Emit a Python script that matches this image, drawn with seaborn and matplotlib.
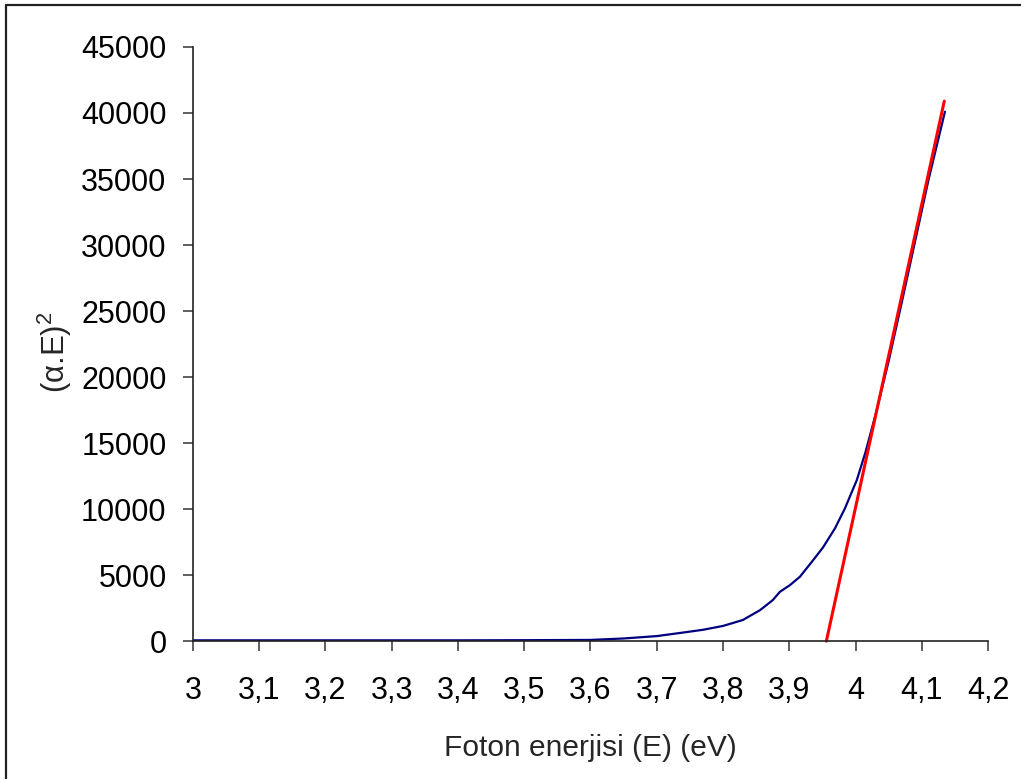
import matplotlib
matplotlib.use("Agg")
import matplotlib.pyplot as plt
from matplotlib.lines import Line2D
import seaborn as sns
import pandas as pd

# Measured absorption: photon energy (eV) vs (alpha*E)^2
energy = [3.0, 3.1, 3.2, 3.3, 3.4, 3.5, 3.6, 3.65, 3.7, 3.74, 3.77, 3.80, 3.83,
          3.856, 3.875, 3.886, 3.901, 3.916, 3.934, 3.951, 3.969, 3.984, 4.002,
          4.015, 4.03, 4.05, 4.07, 4.09, 4.11, 4.135]
alpha_e_sq = [60, 60, 60, 60, 60, 70, 90, 200, 380, 650, 860, 1150, 1600,
              2350, 3100, 3740, 4240, 4870, 6000, 7100, 8540, 10050, 12200,
              14300, 17100, 21200, 25700, 30300, 34900, 40100]

# Linear extrapolation to the energy axis (band gap)
fit_energy = [3.956, 4.134]
fit_values = [0, 40900]

x_ticks = [3.0, 3.1, 3.2, 3.3, 3.4, 3.5, 3.6, 3.7, 3.8, 3.9, 4.0, 4.1, 4.2]
x_tick_labels = ["3", "3,1", "3,2", "3,3", "3,4", "3,5", "3,6", "3,7", "3,8",
                 "3,9", "4", "4,1", "4,2"]
y_ticks = list(range(0, 45001, 5000))

sns.set_style("ticks")
plt.rcParams["font.family"] = ["Liberation Sans", "DejaVu Sans"]
plt.rcParams["mathtext.fontset"] = "custom"
plt.rcParams["mathtext.rm"] = "Liberation Sans"
plt.rcParams["mathtext.it"] = "Liberation Sans"

fig = plt.figure(figsize=(10.21, 7.79), dpi=100)
ax = fig.add_axes([0.189, 0.177, 0.7787, 0.7627])

data = pd.DataFrame({"E": energy, "val": alpha_e_sq})
fit = pd.DataFrame({"E": fit_energy, "val": fit_values})
sns.lineplot(data=data, x="E", y="val", ax=ax, color="#000080", linewidth=1.6,
             sort=False)
sns.lineplot(data=fit, x="E", y="val", ax=ax, color="#ff0000", linewidth=2.2,
             sort=False, clip_on=False)

ax.set_xlim(3.0, 4.2)
ax.set_ylim(0, 45000)
ax.set_xticks(x_ticks)
ax.set_xticklabels(x_tick_labels)
ax.set_yticks(y_ticks)
ax.set_yticklabels([str(v) for v in y_ticks])
ax.tick_params(axis="both", labelsize=22, length=7, width=1.2,
               color="#444444", labelcolor="black")
ax.tick_params(axis="x", pad=18)
ax.tick_params(axis="y", pad=12)

for side in ("top", "right"):
    ax.spines[side].set_visible(False)
for side in ("left", "bottom"):
    ax.spines[side].set_color("#222222")
    ax.spines[side].set_linewidth(1.2)

ax.set_xlabel("Foton enerjisi (E) (eV)", fontsize=21.5, labelpad=20)
ax.set_ylabel(r"(α.E)$^2$", fontsize=22.5, labelpad=7)
ax.yaxis.set_label_coords(-0.15, 0.487)

# Frame around the chart area
fig.add_artist(Line2D([0.0055, 0.0055], [0.0, 0.9935], color="#222222",
                      linewidth=1.6, transform=fig.transFigure))
fig.add_artist(Line2D([0.0055, 1.0], [0.9935, 0.9935], color="#222222",
                      linewidth=1.6, transform=fig.transFigure))

fig.savefig("out.png", dpi=100)
